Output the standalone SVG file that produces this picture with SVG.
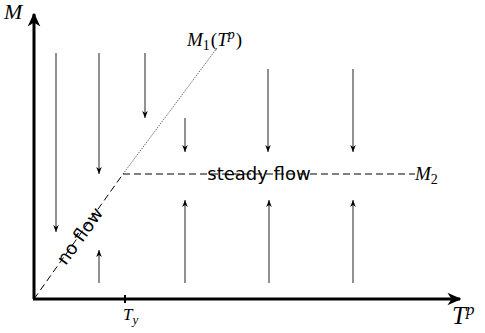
<svg xmlns="http://www.w3.org/2000/svg" width="485" height="333" viewBox="0 0 485 333">
<defs>
<marker id="ah" viewBox="0 0 10 10" refX="10" refY="5" markerWidth="7" markerHeight="9" markerUnits="userSpaceOnUse" orient="auto">
<path d="M0,1 L10,5 L0,9 L3,5 Z" fill="#000"/>
</marker>
<marker id="axh" viewBox="0 0 10 10" refX="9" refY="5" markerWidth="14" markerHeight="14" markerUnits="userSpaceOnUse" orient="auto">
<path d="M0,0.5 L10,5 L0,9.5 L3,5 Z" fill="#000"/>
</marker>
</defs>
<style>
.axis{stroke:#000;stroke-width:3;fill:none}
.flow{stroke:#555;stroke-width:1.3;fill:none}
.dash{stroke:#000;stroke-width:1;stroke-dasharray:7,4;fill:none}
.dot{stroke:#555;stroke-width:1;stroke-dasharray:1.2,1.2;fill:none}
.lbl{font-family:"Liberation Serif",serif;font-style:italic;fill:#000}
.up{font-style:normal}
.txt{font-family:"DejaVu Sans",sans-serif;font-size:18px;fill:#000}
</style>
<rect width="485" height="333" fill="#fff"/>
<g id="axes">
<line class="axis" x1="34" y1="299" x2="34" y2="14" marker-end="url(#axh)"/>
<line class="axis" x1="33" y1="299" x2="460" y2="299" marker-end="url(#axh)"/>
<line x1="125" y1="295" x2="125" y2="303" stroke="#000" stroke-width="2"/>
</g>
<g id="curves">
<line class="dash" x1="34" y1="299" x2="123" y2="174"/>
<line class="dot" x1="123" y1="174" x2="217" y2="48"/>
<line class="dash" x1="123" y1="174" x2="415" y2="174"/>
</g>
<g id="connectors">
<line class="flow" x1="56" y1="53" x2="56" y2="232" marker-end="url(#ah)"/>
<line class="flow" x1="99" y1="53" x2="99" y2="174" marker-end="url(#ah)"/>
<line class="flow" x1="145" y1="53" x2="145" y2="118" marker-end="url(#ah)"/>
<line class="flow" x1="185" y1="118" x2="185" y2="152" marker-end="url(#ah)" stroke="#111"/>
<line class="flow" x1="268" y1="69" x2="268" y2="152" marker-end="url(#ah)"/>
<line class="flow" x1="353" y1="69" x2="353" y2="152" marker-end="url(#ah)"/>
<line class="flow" x1="99" y1="283" x2="99" y2="250" marker-end="url(#ah)"/>
<line class="flow" x1="185" y1="283" x2="185" y2="200" marker-end="url(#ah)"/>
<line class="flow" x1="269" y1="283" x2="269" y2="200" marker-end="url(#ah)"/>
<line class="flow" x1="353" y1="283" x2="353" y2="200" marker-end="url(#ah)"/>
</g>
<g id="labels">
<text class="lbl" x="4" y="19" font-size="22">M</text>
<text class="lbl" x="452" y="324" font-size="25">T<tspan font-size="17" dy="-9">p</tspan></text>
<text class="lbl" x="123" y="320" font-size="17">T<tspan font-size="13" dy="4">y</tspan></text>
<text class="lbl" x="187" y="46" font-size="19">M<tspan class="up" font-size="14" dy="4">1</tspan><tspan class="up" dy="-4" dx="1">(</tspan><tspan>T</tspan><tspan font-size="14" dy="-7">p</tspan><tspan class="up" dy="7" dx="1">)</tspan></text>
<text class="lbl" x="415" y="180" font-size="19">M<tspan class="up" font-size="14" dy="4">2</tspan></text>
<text class="txt" x="259" y="180" text-anchor="middle">steady flow</text>
<text class="txt" x="0" y="6" text-anchor="middle" transform="translate(80,236) rotate(-54.2)">no flow</text>
</g>
</svg>
